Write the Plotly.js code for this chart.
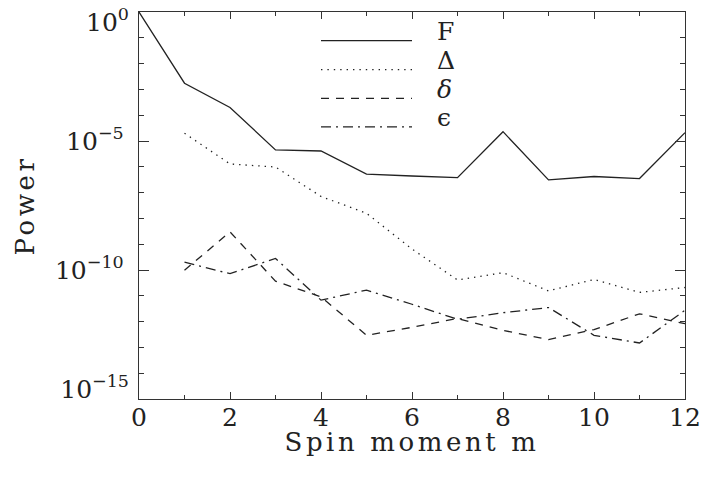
<!DOCTYPE html>
<html>
<head>
<meta charset="utf-8">
<script src="https://cdn.plot.ly/plotly-3.0.1.min.js"></script>
<style>
  html, body { margin: 0; padding: 0; background: #fff; }
  #chart { width: 703px; height: 483px; }
  .xtitle, .ytitle { letter-spacing: 3.6px; }
</style>
</head>
<body>
<div id="chart"></div>
<script>
// Spin moment m
const mF = [0, 1, 2, 3, 4, 5, 6, 7, 8, 9, 10, 11, 12];
const mRest = [1, 2, 3, 4, 5, 6, 7, 8, 9, 10, 11, 12];

// Power of each component
const powerF = [1, 1.74e-3, 2.0e-4, 4.5e-6, 4.1e-6, 5.2e-7, 4.4e-7, 3.8e-7, 2.3e-5, 3.1e-7, 4.2e-7, 3.5e-7, 2.1e-5];
const powerDelta = [2.0e-5, 1.29e-6, 9.8e-7, 7.1e-8, 1.58e-8, 6.5e-10, 4.1e-11, 7.9e-11, 1.55e-11, 4.3e-11, 1.35e-11, 2.1e-11];
const powerSmallDelta = [9.8e-11, 3.0e-9, 3.7e-11, 9.1e-12, 2.95e-13, 6.0e-13, 1.32e-12, 4.6e-13, 2.0e-13, 4.9e-13, 2.0e-12, 8.3e-13];
const powerEpsilon = [2.0e-10, 7.2e-11, 2.8e-10, 6.8e-12, 1.66e-11, 4.7e-12, 1.23e-12, 2.2e-12, 3.5e-12, 2.95e-13, 1.48e-13, 2.75e-12];

// Legend labels
const seriesNames = ["F", "\u0394", "<i>\u03B4</i>", "\u03F5"];

// Axis ticks: inner labels on the main axis, end labels kept inside the frame
const yTickValsInner = [1e-5, 1e-10];
const yTickTextInner = ["10<sup>\u22125</sup>", "10<sup>\u221210</sup>"];
const yTickValTop = [1];
const yTickTextTop = ["10<sup>0</sup>"];
const yTickValBottom = [1e-15];
const yTickTextBottom = ["10<sup>\u221215</sup>"];
const xTickVals = [0, 2, 4, 6, 8, 10, 12];

const ink = "#222";
const dashes = ["solid", "1.4px,5px", "8px,7px", "10px,5px,2px,5px"];
const lw = 1.3;

const traces = [
  {x: mF, y: powerF, name: seriesNames[0]},
  {x: mRest, y: powerDelta, name: seriesNames[1]},
  {x: mRest, y: powerSmallDelta, name: seriesNames[2]},
  {x: mRest, y: powerEpsilon, name: seriesNames[3]}
].map((t, i) => Object.assign(t, {
  type: "scatter", mode: "lines", showlegend: false,
  line: {color: ink, width: lw, dash: dashes[i]}
}));
// invisible carriers so the label-only overlay axes are drawn
traces.push({x: [0], y: [1], yaxis: "y2", type: "scatter", mode: "none", showlegend: false, hoverinfo: "skip"});
traces.push({x: [0], y: [1], yaxis: "y3", type: "scatter", mode: "none", showlegend: false, hoverinfo: "skip"});

// Hand-made legend (line samples from m=4 to m=6)
const legendY = [0.926, 0.851, 0.777, 0.703];
const shapes = legendY.map((yy, i) => ({
  type: "line", xref: "x", yref: "paper", x0: 4, x1: 6, y0: yy, y1: yy,
  line: {color: ink, width: lw, dash: dashes[i]}
}));
const annotations = legendY.map((yy, i) => ({
  xref: "paper", yref: "paper", x: 0.543, y: yy, xanchor: "left", yanchor: "middle",
  yshift: 9, showarrow: false, text: seriesNames[i],
  font: {family: "DejaVu Serif", size: 25, color: ink}
}));

const tickFont = {family: "DejaVu Serif", size: 25, color: ink};
const titleFont = {family: "DejaVu Serif", size: 26, color: ink};
const yRange = [-15.0005, 0.0005];

const labelOnlyAxis = (vals, text, shift) => ({
  type: "log", range: yRange, overlaying: "y", side: "left",
  tickmode: "array", tickvals: vals, ticktext: text,
  ticklabelshift: shift, ticklabeloverflow: "allow",
  ticks: "", showline: false, showgrid: false, zeroline: false,
  tickfont: tickFont, ticklabelstandoff: 9
});

const layout = {
  width: 703, height: 483,
  margin: {l: 139, r: 18, t: 12, b: 84},
  paper_bgcolor: "#fff", plot_bgcolor: "#fff",
  font: tickFont,
  showlegend: false,
  xaxis: {
    range: [0, 12], tickmode: "array", tickvals: xTickVals,
    ticks: "inside", ticklen: 7, tickwidth: 1, tickcolor: "#333",
    minor: {dtick: 1, tick0: 0, ticks: "inside", ticklen: 4, tickcolor: "#333", showgrid: false},
    showline: true, linecolor: "#333", linewidth: 1.3, mirror: "ticks",
    showgrid: false, zeroline: false,
    tickfont: tickFont, ticklabelstandoff: -4,
    title: {text: "Spin moment m", font: titleFont, standoff: 0}
  },
  yaxis: {
    type: "log", range: yRange, tickmode: "array",
    tickvals: yTickValsInner, ticktext: yTickTextInner,
    ticks: "inside", ticklen: 10, tickwidth: 1, tickcolor: "#333",
    minor: {dtick: 1, tick0: 0, ticks: "inside", ticklen: 5, tickcolor: "#333", showgrid: false},
    showline: true, linecolor: "#333", linewidth: 1.3, mirror: "ticks",
    showgrid: false, zeroline: false,
    tickfont: tickFont, ticklabelstandoff: 9,
    title: {text: "Power", font: titleFont, standoff: 13}
  },
  yaxis2: labelOnlyAxis(yTickValTop, yTickTextTop, 10),
  yaxis3: labelOnlyAxis(yTickValBottom, yTickTextBottom, -10),
  shapes: shapes,
  annotations: annotations
};

Plotly.newPlot("chart", traces, layout, {staticPlot: true, displayModeBar: false}).then(gd => {
  // lift the x-axis title a little closer to the tick labels, as in the original
  const t = gd.querySelector(".xtitle");
  if (t && t.getAttribute("y")) t.setAttribute("y", parseFloat(t.getAttribute("y")) - 5);
});
</script>
</body>
</html>
